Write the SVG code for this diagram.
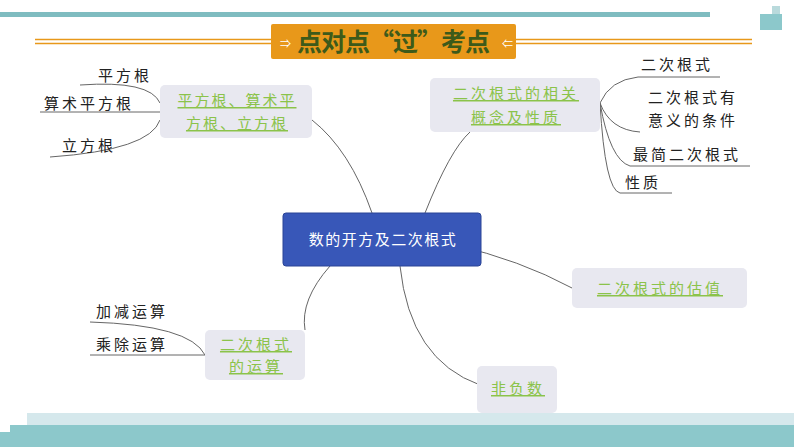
<svg xmlns="http://www.w3.org/2000/svg" width="794" height="447" viewBox="0 0 794 447">
<style>
.t{font-family:"Noto Sans CJK SC","Noto Sans",sans-serif;font-size:15px;fill:#222;letter-spacing:3px}
.g{font-family:"Noto Sans CJK SC","Noto Sans",sans-serif;font-size:15px;fill:#8bc34a;text-decoration:underline;letter-spacing:3px}
.b{fill:#e8e8f0}
.c{fill:none;stroke:#666;stroke-width:1}
</style>
<rect width="794" height="447" fill="#fff"/>
<rect x="0" y="12" width="710" height="5" fill="#7fbcc0"/>
<rect x="772" y="6" width="8" height="8" fill="#b9dadc"/>
<rect x="760" y="14" width="22" height="16" fill="#8cc8cb"/>
<rect x="27" y="413" width="767" height="12" fill="#d5e8ec"/>
<rect x="10" y="425" width="784" height="22" fill="#8cc8cb"/>
<rect x="0" y="432" width="10" height="15" fill="#8cc8cb"/>
<g id="title">
<path d="M35 39.5H271M35 43.5H271M516 39.5H752M516 43.5H752" stroke="#e8981a" stroke-width="1.5"/>
<rect x="271" y="24" width="245" height="35" rx="2" fill="#e8981a"/>
<text x="393" y="51" text-anchor="middle" font-family="Noto Sans CJK SC,sans-serif" font-size="25" font-weight="bold" fill="#3d5a1a" letter-spacing="-1">点对点“过”考点</text>
<text x="280" y="48" font-family="Noto Sans CJK SC,sans-serif" font-size="11" fill="#fff">⇒</text>
<text x="502" y="48" font-family="Noto Sans CJK SC,sans-serif" font-size="11" fill="#fff">⇐</text>
</g>
<g id="connectors">
<path class="c" d="M372 213Q350 150 312 120"/>
<path class="c" d="M425 213Q450 150 470 132"/>
<path class="c" d="M455 245Q520 260 572 288"/>
<path class="c" d="M400 266Q410 360 480 385"/>
<path class="c" d="M330 266Q300 300 305 330"/>
<path class="c" d="M160 103Q150 80 80 85M160 112H40M160 120Q150 150 50 157"/>
<path class="c" d="M600 103Q610 80 638 77H720M600 103Q610 130 640 132M600 103Q610 160 630 166H750M600 103Q605 190 620 193H672"/>
<path class="c" d="M205 355Q190 325 90 322M205 355H90"/>
</g>
<g id="center"><rect x="283" y="213" width="198" height="53" rx="3" fill="#3857b8" stroke="#2a4496"/><text x="383" y="245" text-anchor="middle" class="t" style="fill:#fff;letter-spacing:1.5px">数的开方及二次根式</text></g>
<g id="n1"><rect class="b" x="160" y="85" width="152" height="53" rx="5"/><text class="g" x="237" y="106" text-anchor="middle" style="letter-spacing:2px">平方根、算术平</text><text class="g" x="237" y="129" text-anchor="middle" style="letter-spacing:2px">方根、立方根</text></g>
<g id="n2"><rect class="b" x="430" y="78" width="170" height="54" rx="5"/><text class="g" x="516" y="99" text-anchor="middle">二次根式的相关</text><text class="g" x="516" y="123" text-anchor="middle">概念及性质</text></g>
<g id="n3"><rect class="b" x="572" y="268" width="175" height="40" rx="5"/><text class="g" x="660" y="294" text-anchor="middle">二次根式的估值</text></g>
<g id="n4"><rect class="b" x="477" y="366" width="80" height="47" rx="5"/><text class="g" x="518" y="394" text-anchor="middle">非负数</text></g>
<g id="n5"><rect class="b" x="205" y="330" width="100" height="50" rx="5"/><text class="g" x="256" y="350" text-anchor="middle">二次根式</text><text class="g" x="256" y="372" text-anchor="middle">的运算</text></g>
<g id="leaves">
<text class="t" x="98" y="81">平方根</text>
<text class="t" x="44" y="109">算术平方根</text>
<text class="t" x="62" y="151">立方根</text>
<text class="t" x="641" y="70">二次根式</text>
<text class="t" x="648" y="103">二次根式有</text>
<text class="t" x="648" y="126">意义的条件</text>
<text class="t" x="633" y="160">最简二次根式</text>
<text class="t" x="625" y="188">性质</text>
<text class="t" x="96" y="317">加减运算</text>
<text class="t" x="96" y="350">乘除运算</text>
</g>
</svg>
